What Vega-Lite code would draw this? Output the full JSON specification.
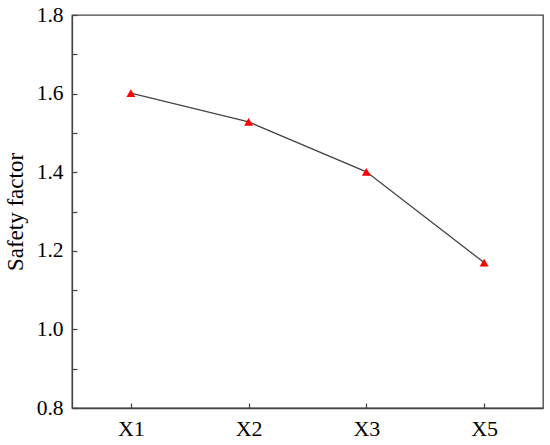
{
  "$schema": "https://vega.github.io/schema/vega-lite/v6.json",
  "width": 471,
  "height": 393,
  "autosize": {"type": "none"},
  "padding": {"left": 72, "top": 15, "right": 7, "bottom": 37},
  "background": "white",
  "config": {
    "view": {"stroke": "#444444", "strokeWidth": 1.3},
    "font": "serif",
    "axis": {
      "labelFont": "serif",
      "titleFont": "serif",
      "labelColor": "#000000",
      "titleColor": "#000000",
      "domainColor": "#444444",
      "domainWidth": 1.3,
      "tickColor": "#444444",
      "tickWidth": 1.2,
      "grid": false
    }
  },
  "data": {
    "values": [
      {"case": "X1", "safety": 1.601},
      {"case": "X2", "safety": 1.528},
      {"case": "X3", "safety": 1.401},
      {"case": "X5", "safety": 1.170}
    ]
  },
  "encoding": {
    "x": {
      "field": "case",
      "type": "nominal",
      "sort": null,
      "scale": {"type": "point", "padding": 0.5},
      "axis": {
        "title": null,
        "labelAngle": 0,
        "labelFontSize": 22,
        "tickSize": -5,
        "labelPadding": 15
      }
    },
    "y": {
      "field": "safety",
      "type": "quantitative",
      "scale": {"domain": [0.8, 1.8], "nice": false, "zero": false},
      "axis": {
        "title": "Safety factor",
        "titleFontSize": 23,
        "titleFontWeight": "normal",
        "titleAngle": -90,
        "titleAlign": "center",
        "titleBaseline": "alphabetic",
        "titleX": -50,
        "titleY": 196.5,
        "values": [0.8, 0.9, 1.0, 1.1, 1.2, 1.3, 1.4, 1.5, 1.6, 1.7, 1.8],
        "labelExpr": "round(datum.value*10) % 2 == 0 ? format(datum.value, '.1f') : ''",
        "labelFontSize": 21.5,
        "tickSize": -5,
        "labelPadding": 14
      }
    }
  },
  "layer": [
    {"mark": {"type": "line", "color": "#444444", "strokeWidth": 1.3}},
    {"mark": {"type": "point", "shape": "triangle-up", "filled": true, "color": "#ff0000", "size": 80, "opacity": 1}}
  ]
}
